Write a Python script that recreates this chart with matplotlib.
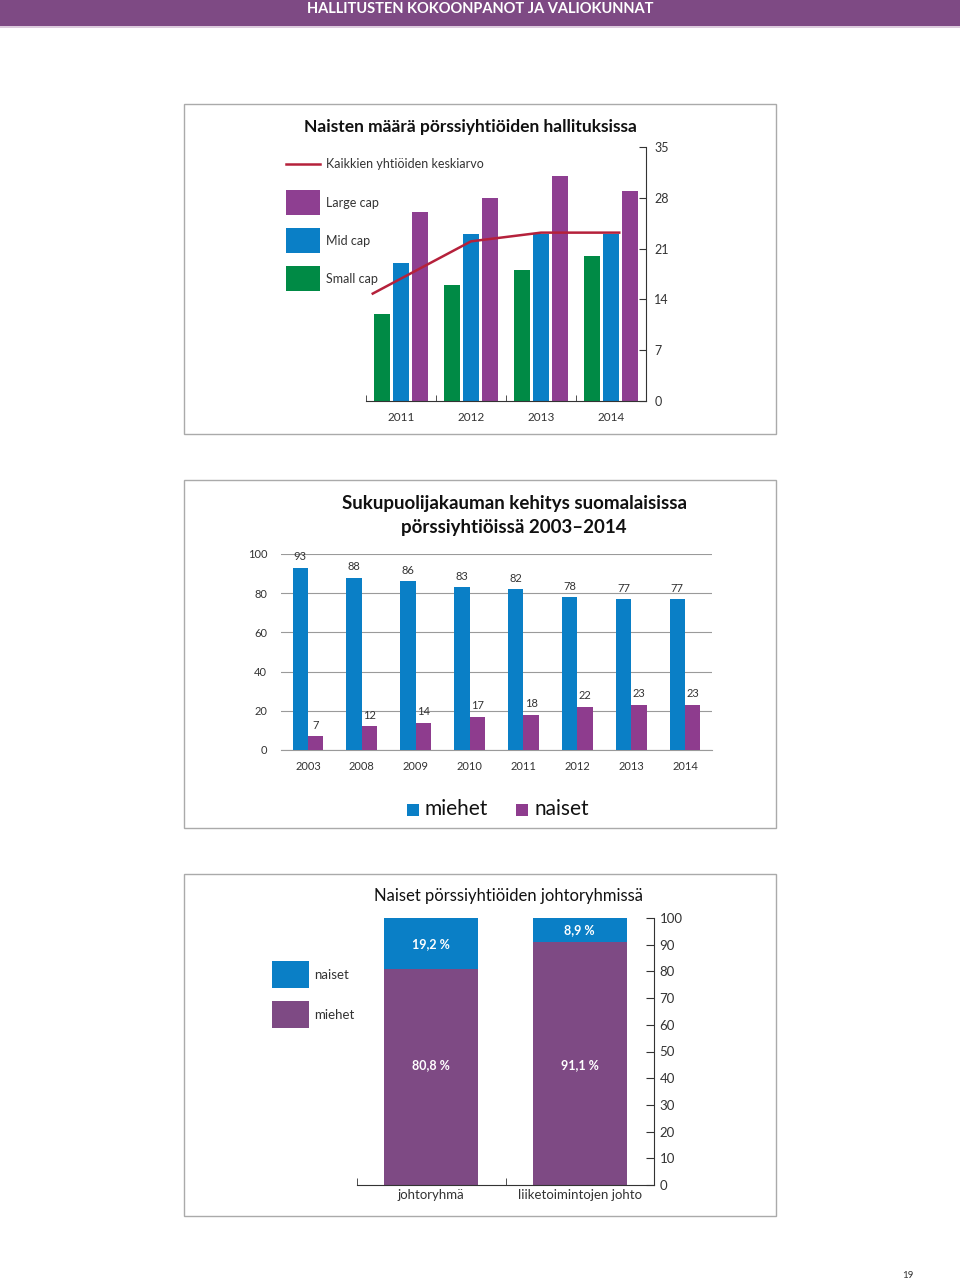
import numpy as np
import matplotlib
matplotlib.use("Agg")
import matplotlib.pyplot as plt
from matplotlib.patches import Rectangle
from matplotlib.lines import Line2D

plt.rcParams['font.family'] = ['Lato', 'DejaVu Sans']

# --- data ---
top_years = ['2011', '2012', '2013', '2014']
small_cap = [12, 16, 18, 20]
mid_cap = [19, 23, 23, 23]
large_cap = [26, 28, 31, 29]
avg_all = [14.8, 22.0, 23.2, 23.2]

mid_years = ['2003', '2008', '2009', '2010', '2011', '2012', '2013', '2014']
miehet_share = [93, 88, 86, 83, 82, 78, 77, 77]
naiset_share = [7, 12, 14, 17, 18, 22, 23, 23]

groups = ['johtoryhmä', 'liiketoimintojen johto']
naiset_pct = [19.2, 8.9]
miehet_pct = [80.8, 91.1]

PURPLE = '#8e3f91'
PURPLE2 = '#7e4a84'
BLUE = '#0a7fc6'
GREEN = '#008a45'
RED = '#b5213b'
DARK = '#333333'

W, H = 960, 1283
fig = plt.figure(figsize=(W / 100, H / 100), dpi=100)


def box(l, t, r, b):
    return [l / W, 1 - b / H, (r - l) / W, (b - t) / H]


def frect(l, t, r, b, **kw):
    fig.patches.append(Rectangle((l / W, 1 - b / H), (r - l) / W, (b - t) / H,
                                 transform=fig.transFigure, **kw))


def ftext(x, y, s, **kw):
    fig.text(x / W, 1 - y / H, s, **kw)


# header band
frect(0, 0, W, 26, facecolor=PURPLE2, edgecolor='none')
frect(0, 26, W, 28, facecolor='#dccbdd', edgecolor='none')
ftext(480, 9, 'HALLITUSTEN KOKOONPANOT JA VALIOKUNNAT', color='white',
      fontsize=10.5, fontweight='bold', ha='center', va='center')

# frames
for t, b in [(104, 434), (480, 828), (874, 1216)]:
    frect(184, t, 776, b, facecolor='none', edgecolor='#aaaaaa', linewidth=1)

# ---------------- top chart ----------------
ax1 = fig.add_axes(box(366, 147, 646, 401))
x = np.arange(len(top_years))
w = 0.236
step = 0.269
ax1.bar(x - step, small_cap, w, color=GREEN)
ax1.bar(x, mid_cap, w, color=BLUE)
ax1.bar(x + step, large_cap, w, color=PURPLE)
line_x = x.astype(float)
line_x[0] -= 1.5 * step
line_x[-1] += w / 2
ax1.plot(line_x, avg_all, color=RED, linewidth=1.8)
ax1.set_xlim(-0.5, 3.5)
ax1.set_ylim(0, 35)
ax1.set_yticks(np.arange(0, 36, 7))
ax1.yaxis.tick_right()
ax1.set_xticks(x)
ax1.set_xticklabels(top_years)
ax1.set_xticks([-0.5, 0.5, 1.5, 2.5], minor=True)
ax1.tick_params(axis='x', which='major', length=0, pad=8, labelsize=8.5, colors=DARK)
ax1.tick_params(axis='x', which='minor', direction='in', length=4, color=DARK)
ax1.tick_params(axis='y', direction='in', length=5, pad=6, labelsize=9, colors=DARK)
for s in ['top', 'left']:
    ax1.spines[s].set_visible(False)
for s in ['bottom', 'right']:
    ax1.spines[s].set_color(DARK)

ftext(470, 127, 'Naisten määrä pörssiyhtiöiden hallituksissa', fontsize=12.5,
      fontweight='bold', ha='center', va='center', color='#111111')
fig.lines.append(Line2D([286 / W, 320 / W], [1 - 164 / H] * 2, color=RED, linewidth=1.8,
                        transform=fig.transFigure))
ftext(326, 164, 'Kaikkien yhtiöiden keskiarvo', fontsize=9, va='center', color=DARK)
for (lab, col, yc) in [('Large cap', PURPLE, 203), ('Mid cap', BLUE, 241), ('Small cap', GREEN, 279)]:
    frect(286, yc - 13, 320, yc + 12, facecolor=col, edgecolor='none')
    ftext(326, yc, lab, fontsize=9, va='center', color=DARK)

# ---------------- middle chart ----------------
ax2 = fig.add_axes(box(281, 554, 712, 750))
x2 = np.arange(len(mid_years))
w2 = 0.285
ax2.bar(x2 - w2 / 2, miehet_share, w2, color=BLUE, zorder=3)
ax2.bar(x2 + w2 / 2, naiset_share, w2, color='#8e3c8e', zorder=3)
for xi, v in zip(x2, miehet_share):
    ax2.annotate(str(v), (xi - w2 / 2, v), xytext=(0, 4), textcoords='offset points',
                 ha='center', va='bottom', fontsize=8, color=DARK)
for xi, v in zip(x2, naiset_share):
    ax2.annotate(str(v), (xi + w2 / 2, v), xytext=(0, 4), textcoords='offset points',
                 ha='center', va='bottom', fontsize=8, color=DARK)
ax2.set_xlim(-0.5, len(mid_years) - 0.5)
ax2.set_ylim(0, 100)
ax2.set_yticks(np.arange(0, 101, 20))
ax2.yaxis.grid(True, color='#9a9a9a', linewidth=0.8, zorder=0)
ax2.set_axisbelow(True)
ax2.set_xticks(x2)
ax2.set_xticklabels(mid_years)
ax2.tick_params(axis='both', length=0, labelsize=8, colors=DARK)
ax2.tick_params(axis='x', pad=8)
ax2.tick_params(axis='y', pad=10)
for s in ['top', 'left', 'right']:
    ax2.spines[s].set_visible(False)
ax2.spines['bottom'].set_color('#9a9a9a')

ftext(514, 503, 'Sukupuolijakauman kehitys suomalaisissa', fontsize=13.5,
      fontweight='bold', ha='center', va='center', color='#111111')
ftext(514, 528, 'pörssiyhtiöissä 2003–2014', fontsize=13.5,
      fontweight='bold', ha='center', va='center', color='#111111')
frect(407, 804, 419, 816, facecolor=BLUE, edgecolor='none')
ftext(425, 809, 'miehet', fontsize=15, va='center', color='#111111')
frect(516, 804, 528, 816, facecolor='#8e3c8e', edgecolor='none')
ftext(534, 809, 'naiset', fontsize=15, va='center', color='#111111')

# ---------------- bottom chart ----------------
ax3 = fig.add_axes(box(357, 918, 654, 1185))
x3 = np.arange(len(groups))
w3 = 0.633
ax3.bar(x3, miehet_pct, w3, color=PURPLE2)
ax3.bar(x3, naiset_pct, w3, bottom=miehet_pct, color=BLUE)
for xi, m, n in zip(x3, miehet_pct, naiset_pct):
    ax3.text(xi, 45, f'{m:.1f} %'.replace('.', ','), ha='center', va='center',
             color='white', fontsize=9, fontweight='bold')
    ax3.text(xi, m + n / 2, f'{n:.1f} %'.replace('.', ','), ha='center', va='center',
             color='white', fontsize=9, fontweight='bold')
ax3.set_xlim(-0.5, 1.5)
ax3.set_ylim(0, 100)
ax3.set_yticks(np.arange(0, 101, 10))
ax3.yaxis.tick_right()
ax3.set_xticks(x3)
ax3.set_xticklabels(groups)
ax3.set_xticks([-0.5, 0.5], minor=True)
ax3.tick_params(axis='x', which='major', length=0, pad=3, labelsize=9.5, colors=DARK)
ax3.tick_params(axis='x', which='minor', direction='in', length=5, color=DARK)
ax3.tick_params(axis='y', direction='in', length=6, pad=4, labelsize=9.5, colors=DARK)
for s in ['top', 'left']:
    ax3.spines[s].set_visible(False)
for s in ['bottom', 'right']:
    ax3.spines[s].set_color(DARK)

ftext(508, 896, 'Naiset pörssiyhtiöiden johtoryhmissä', fontsize=12,
      ha='center', va='center', color='#111111')
frect(272, 961, 309, 988, facecolor=BLUE, edgecolor='none')
ftext(314, 975, 'naiset', fontsize=9.5, va='center', color=DARK)
frect(272, 1001, 309, 1028, facecolor=PURPLE2, edgecolor='none')
ftext(314, 1015, 'miehet', fontsize=9.5, va='center', color=DARK)

ftext(908, 1275, '19', fontsize=7, ha='center', va='center', color=DARK)

fig.savefig('out.png', dpi=100)
